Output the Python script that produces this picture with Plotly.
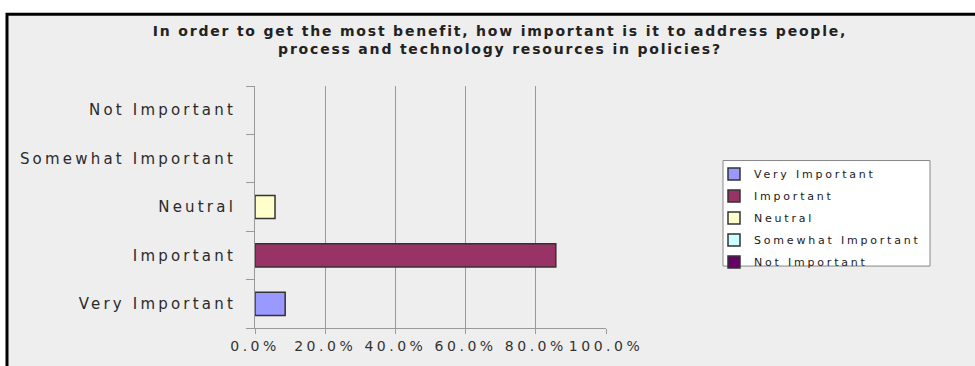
import plotly.graph_objects as go

# Survey responses (share of respondents)
categories = ["Very Important", "Important", "Neutral", "Somewhat Important", "Not Important"]
shares = [0.086, 0.857, 0.057, 0.0, 0.0]
colors = ["#9999FF", "#993366", "#FFFFCC", "#CCFFFF", "#660066"]
x_ticks = [0.0, 0.2, 0.4, 0.6, 0.8, 1.0]

title_text = ("In order to get the most benefit, how important is it to address people,"
              "<br>process and technology resources in policies?")

W, H = 975, 366
L, R, T, B = 255, 369, 86, 30
PW, PH = W - L - R, H - T - B


def fx(px):
    return (px - L) / PW


def fy(py):
    return (H - B - py) / PH


fig = go.Figure()
for i, (cat, val, col) in enumerate(zip(categories, shares, colors)):
    # empty answers get no bar, only their legend entry
    fig.add_trace(go.Bar(
        x=[val if val > 0 else None], y=[cat], name=cat, orientation="h",
        legendgroup=f"g{i}",
        marker=dict(color=col, line=dict(color="#333333", width=1.5)),
    ))

fig.update_layout(
    width=W, height=H,
    margin=dict(l=L, r=R, t=T, b=B),
    paper_bgcolor="white",
    plot_bgcolor="rgba(0,0,0,0)",
    barmode="overlay",
    bargap=0.52,
    font=dict(family="DejaVu Sans", color="#333333"),
    title=dict(
        text=title_text,
        x=500 / W, xanchor="center",
        y=1 - 36 / H, yanchor="top",
        font=dict(family="DejaVu Sans", size=13, color="#222222", weight="bold"),
    ),
    showlegend=True,
    legend=dict(
        x=fx(714), xanchor="left",
        y=fy(162), yanchor="top",
        bgcolor="rgba(0,0,0,0)", borderwidth=0,
        traceorder="grouped", tracegroupgap=3,
        font=dict(family="DejaVu Sans", size=11, color="#1a1a1a"),
    ),
    shapes=[
        dict(type="rect", xref="paper", yref="paper", layer="below",
             x0=fx(7), x1=fx(1010), y0=fy(400), y1=fy(12),
             fillcolor="#EEEEEE", line=dict(color="black", width=3)),
        dict(type="rect", xref="paper", yref="paper", layer="below",
             x0=fx(723), x1=fx(930), y0=fy(272), y1=fy(163),
             fillcolor="white", line=dict(color="#888888", width=1)),
    ],
)

fig.update_xaxes(
    range=[0, 1], tickvals=x_ticks, tickformat=".1%",
    showgrid=True, gridcolor="#999999", gridwidth=1,
    showline=True, linecolor="#999999", linewidth=1,
    ticks="outside", ticklen=5, tickcolor="#999999",
    zeroline=False,
    tickfont=dict(family="DejaVu Sans", size=14, color="#333333"),
)
fig.update_yaxes(
    categoryorder="array", categoryarray=categories,
    showgrid=False, showline=True, linecolor="#999999", linewidth=1,
    ticks="outside", ticklen=8, tickcolor="#999999", tickson="boundaries",
    ticklabelstandoff=15,
    tickfont=dict(family="DejaVu Sans", size=15, color="#2a2a2a"),
)

# Wider letter spacing for the labels; legend text is allowed past its clip box
letter_css = (
    "var st=document.createElement('style');"
    "st.textContent='.xtick text{letter-spacing:3.5px}"
    ".ytick text{letter-spacing:3.2px}"
    ".legendtext{letter-spacing:2.8px}"
    ".legend .scrollbox{clip-path:none !important}"
    ".gtitle{letter-spacing:1.8px;font-size:14px !important}';"
    "document.head.appendChild(st);"
)

fig.write_html("out.html", post_script=letter_css)
